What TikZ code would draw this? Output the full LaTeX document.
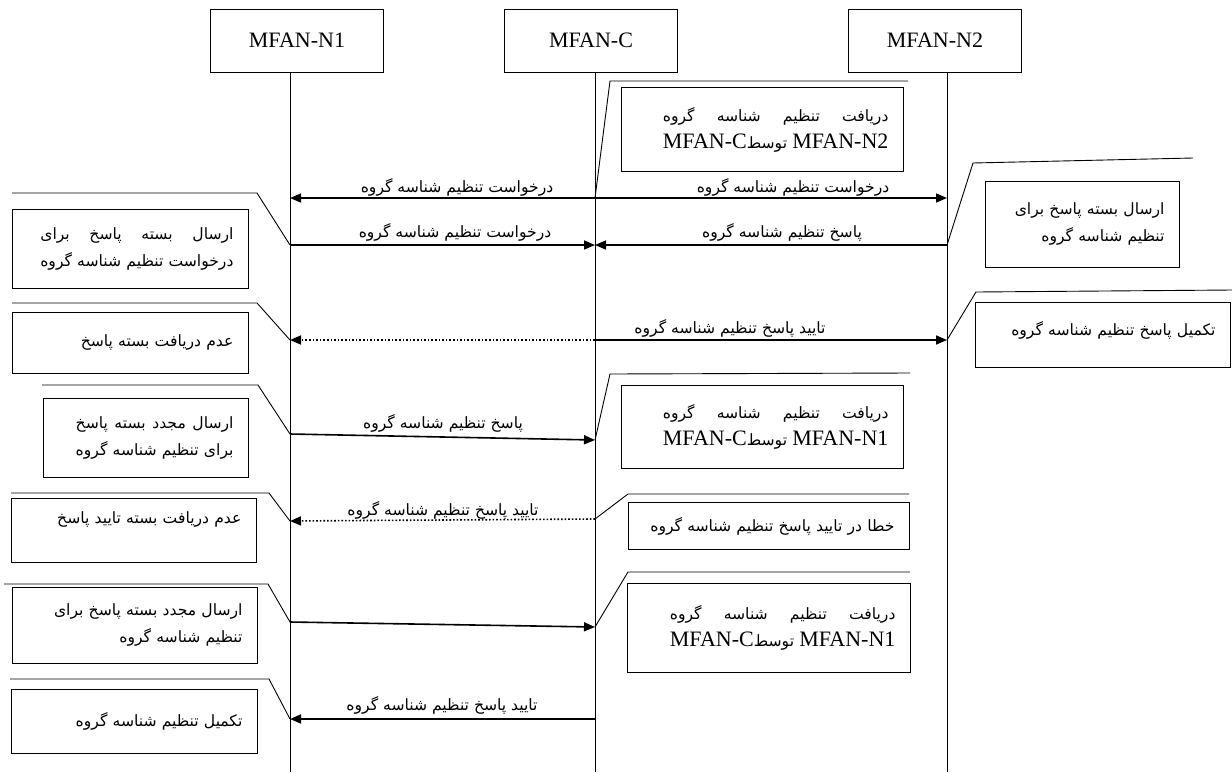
\documentclass[tikz,border=0pt]{standalone}
\usepackage{fontspec}
\usetikzlibrary{arrows.meta}
\setmainfont{Liberation Serif}
\newfontfamily\fa[Script=Arabic]{DejaVu Sans}
\TeXXeTstate=1
\newlength\jw
\newcommand\rl[1]{\beginR#1\endR}
\newcommand\lat[1]{\beginL{\rmfamily\fontsize{22}{24}\selectfont#1}\endL}
% first line spread to the width of the second
\newcommand\jl[2]{\settowidth\jw{#2}\makebox[\jw][s]{#1}\\#2}

\begin{document}
\begin{tikzpicture}[x=1pt,y=-1pt,>={Triangle[length=11pt,width=9pt]},
 head/.style={draw,line width=.9pt,minimum width=173pt,minimum height=63pt,font=\fontsize{22}{25}\selectfont},
 box/.style 2 args={draw,line width=.9pt,anchor=north west,align=right,inner xsep=15pt,inner ysep=2pt,text width=#1,minimum height=#2,font=\fa\fontsize{15.6}{27}\selectfont},
 lbl/.style={font=\fa\fontsize{15.6}{17}\selectfont,inner sep=1pt},
 msg/.style={->,line width=1.6pt},
 call/.style={line width=.9pt}]
\useasboundingbox (0,0) rectangle (1232,772);
% heads and lifelines
\foreach \n/\x/\t in {n1/297/MFAN-N1,c/591/MFAN-C,n2/935/MFAN-N2}{\node[head] (\n) at (\x,40.5) {\t};}
\foreach \n/\x in {n1/290,c/595,n2/947}{\coordinate (\n end) at (\x,772);\draw[line width=.9pt] (\n.south-|\n end) -- (\n end);}
\foreach \n/\x/\y in {l1/290/198,c1/595/198,r1/947/198,l2/290/245,c2/595/245,r2/947/245,l3/290/340,c3/595/340,r3/947/340,
 l4/290/434,c4/595/440,l5/290/521,c5/595/519,l6/290/622,c6/595/627,l7/290/719,c7/595/719}{\coordinate (\n) at (\x,\y);}
% messages
\draw[msg] (c1) -- (l1);\draw[msg] (c1) -- (r1);
\node[lbl] (m1) at (457,187) {\rl{درخواست تنظیم شناسه گروه}};\node[lbl] (m2) at (793,187) {\rl{درخواست تنظیم شناسه گروه}};
\draw[msg] (l2) -- (c2);\draw[msg] (r2) -- (c2);
\node[lbl] (m3) at (455,232) {\rl{درخواست تنظیم شناسه گروه}};\node[lbl] (m4) at (782,232) {\rl{پاسخ تنظیم شناسه گروه}};
\draw[msg,dotted] (c3) -- (l3);\draw[msg] (c3) -- (r3);
\node[lbl] (m5) at (730,328) {\rl{تایید پاسخ تنظیم شناسه گروه}};
\draw[msg] (l4) -- (c4);\node[lbl] (m6) at (443,423) {\rl{پاسخ تنظیم شناسه گروه}};
\draw[msg,dotted] (c5) -- (l5);\node[lbl] (m7) at (443,510) {\rl{تایید پاسخ تنظیم شناسه گروه}};
\draw[msg] (l6) -- (c6);
\draw[msg] (c7) -- (l7);\node[lbl] (m8) at (442,705) {\rl{تایید پاسخ تنظیم شناسه گروه}};
% notes on MFAN-N1
\draw[call] (l2) -- (257,193) -- (12,193);\node[box={206pt}{79pt}] (a) at (12,209) {\jl{\rl{ارسال\hfill بسته\hfill پاسخ\hfill برای}}{\rl{درخواست تنظیم شناسه گروه}}};
\draw[call] (l3) -- (257,303) -- (12,303);\node[box={206pt}{61pt}] (b) at (12,312) {\rl{عدم دریافت بسته پاسخ}};
\draw[call] (l4) -- (258,385) -- (42,385);\node[box={175pt}{79pt}] (d) at (43,398) {\jl{\rl{ارسال\hfill مجدد\hfill بسته\hfill پاسخ}}{\rl{برای تنظیم شناسه گروه}}};
\draw[call] (l5) -- (269,493) -- (11,493);\node[box={215pt}{64pt},text depth=26pt] (e) at (11,498) {\rl{عدم دریافت بسته تایید پاسخ}};
\draw[call] (l6) -- (268,584) -- (4,584);\node[box={215pt}{76pt}] (f) at (12,587) {\rl{ارسال مجدد بسته پاسخ برای}\\\rl{تنظیم شناسه گروه}};
\draw[call] (l7) -- (269,679) -- (10,679);\node[box={216pt}{64pt}] (g) at (11,689) {\rl{تکمیل تنظیم شناسه گروه}};
% notes on MFAN-C
\draw[call] (c1) -- (610,81) -- (908,81);\node[box={252pt}{84pt}] (h) at (621,87) {\jl{\rl{دریافت\hfill تنظیم\hfill شناسه\hfill گروه}}{\rl{\lat{MFAN-N2} توسط\lat{MFAN-C}}}};
\draw[call] (c4) -- (610,374) -- (910,373);\node[box={252pt}{83pt}] (i) at (621,385) {\jl{\rl{دریافت\hfill تنظیم\hfill شناسه\hfill گروه}}{\rl{\lat{MFAN-N1} توسط\lat{MFAN-C}}}};
\draw[call] (c5) -- (628,494) -- (909,494);\node[box={251pt}{47pt}] (j) at (628,502) {\rl{خطا در تایید پاسخ تنظیم شناسه گروه}};
\draw[call] (c6) -- (628,572) -- (910,572);\node[box={253pt}{89pt}] (k) at (627,583) {\jl{\rl{دریافت\hfill تنظیم\hfill شناسه\hfill گروه}}{\rl{\lat{MFAN-N1} توسط\lat{MFAN-C}}}};
% notes on MFAN-N2
\draw[call] (r2) -- (973,163) -- (1193,158);\node[box={164pt}{86pt}] (p) at (985,181) {\rl{ارسال بسته پاسخ برای}\\\rl{تنظیم شناسه گروه}};
\draw[call] (r3) -- (976,292) -- (1232,290);\node[box={225pt}{65pt},text depth=12pt] (q) at (975,302) {\rl{تکمیل پاسخ تنظیم شناسه گروه}};
\end{tikzpicture}
\end{document}
